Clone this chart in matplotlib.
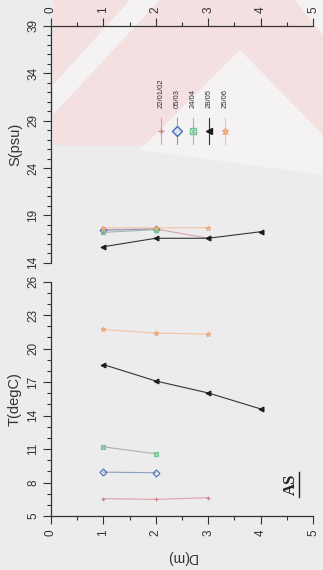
import numpy as np
import matplotlib
matplotlib.use('Agg')
import matplotlib.pyplot as plt
from matplotlib.patches import Polygon
from matplotlib.lines import Line2D

plt.rcParams['font.family'] = ['Liberation Sans', 'DejaVu Sans']

depth = [1, 2, 3, 4]
dates = ['22/01/02', '05/03', '24/04', '28/05', '25/06']

temp_2201 = [6.55, 6.49, 6.64]
temp_0503 = [8.93, 8.87]
temp_2404 = [11.19, 10.57]
temp_2805 = [18.56, 17.09, 16.02, 14.59]
temp_2506 = [21.71, 21.38, 21.29]

sal_2201 = [17.45, 17.56, 16.58]
sal_0503 = [17.45, 17.56]
sal_2404 = [17.2, 17.5]
sal_2805 = [15.69, 16.58, 16.58, 17.27]
sal_2506 = [17.68, 17.68, 17.7]

temps = [temp_2201, temp_0503, temp_2404, temp_2805, temp_2506]
sals = [sal_2201, sal_0503, sal_2404, sal_2805, sal_2506]

d_ticks = [0, 1, 2, 3, 4, 5]
s_ticks = [14, 19, 24, 29, 34, 39]
t_ticks = [5, 8, 11, 14, 17, 20, 23, 26]

colors = ['#c9808a', '#4a6db5', '#74c393', '#1c1c1c', '#eda77a']
line_colors = ['#d8a3a9', '#8d9cc0', '#a7b5ab', '#333333', '#f1c3a5']
markers = ['+', 'D', 's', '<', '*']

W, H = 323, 570
fig = plt.figure(figsize=(W / 100, H / 100), dpi=100)
fig.patch.set_facecolor('#ececec')


def px(x, y):
    return (x / W, 1 - y / H)


# Wasserzeichen im Hintergrund
pink = '#f4dfe1'
light = '#f4f2f2'
shapes = [
    ([(53, 0), (130, 0), (53, 85)], pink),
    ([(53, 85), (130, 0), (160, 0), (53, 115)], light),
    ([(53, 115), (160, 0), (295, 0), (323, 35), (323, 135), (240, 50),
      (145, 145), (53, 145)], pink),
    ([(295, 0), (323, 0), (323, 35)], light),
    ([(240, 50), (323, 135), (323, 175), (140, 150)], light),
]
for pts, col in shapes:
    fig.patches.append(Polygon([px(*p) for p in pts], closed=True,
                               transform=fig.transFigure, facecolor=col,
                               edgecolor='none', zorder=-10))

axS = fig.add_axes([51 / W, 1 - 262.7 / H, 262 / W, (262.7 - 26) / H])
axT = fig.add_axes([51 / W, 1 - 516 / H, 262 / W, (516 - 281.5) / H])

for ax in (axS, axT):
    ax.set_facecolor('none')
    ax.set_xlim(0, 5)
    ax.set_xticks(d_ticks)
    ax.set_xticks(np.arange(0.5, 5, 1), minor=True)
    for sp in ax.spines.values():
        sp.set_color('#333333')
        sp.set_linewidth(0.9)
    ax.spines['right'].set_visible(False)
    ax.tick_params(which='major', direction='out', length=5.8, width=0.8,
                   colors='#333333', labelsize=8.5, labelrotation=90)
    ax.tick_params(which='minor', direction='out', length=3.2, width=0.8,
                   colors='#333333')
    ax.tick_params(axis='y', pad=2.5)

# Salzgehalt oben
axS.spines['bottom'].set_visible(False)
axS.xaxis.tick_top()
axS.tick_params(axis='x', pad=3.5)
axS.set_ylim(14, 39)
axS.set_yticks(s_ticks)
axS.set_yticks(np.arange(14, 40, 1), minor=True)

# Temperatur unten
axT.spines['top'].set_visible(False)
axT.tick_params(axis='x', pad=4)
axT.set_ylim(5, 26)
axT.set_yticks(t_ticks)
axT.set_yticks(np.arange(5, 27, 1), minor=True)

for ax in (axS, axT):
    plt.setp(ax.get_yticklabels(), va='center')

for ax, series in ((axS, sals), (axT, temps)):
    for vals, c, lc, m in zip(series, colors, line_colors, markers):
        d = depth[:len(vals)]
        mfc = c if m == '<' else 'none'
        ax.plot(d, vals, color=lc, lw=0.8, marker=m, ms=3.5, mec=c,
                mfc=mfc, mew=0.8, clip_on=False)
        if m == 's':
            ax.plot(d, vals, ls='none', marker='x', ms=2.5, mec=c, mew=0.6,
                    clip_on=False)

# Legende (gedreht)
for i, (lab, c, lc, m) in enumerate(zip(dates, colors, line_colors, markers)):
    x = 161 + i * 16
    fig.add_artist(Line2D([px(x, 118)[0], px(x, 144)[0]],
                          [px(x, 118)[1], px(x, 144)[1]],
                          transform=fig.transFigure, color=lc, lw=0.8))
    mfc = c if m == '<' else ('#d8e4f5' if m == 'D' else 'none')
    fig.add_artist(Line2D([px(x, 131)[0]], [px(x, 131)[1]],
                          transform=fig.transFigure, ls='none', marker=m,
                          ms=5.0, mec=c, mfc=mfc, mew=1.0))
    if m == 's':
        fig.add_artist(Line2D([px(x, 131)[0]], [px(x, 131)[1]],
                              transform=fig.transFigure, ls='none',
                              marker='x', ms=3.2, mec=c, mew=0.7))
    fig.text(*px(x, 108), lab, rotation=90, ha='center', va='bottom',
             fontsize=5.5, color='#333333')

fig.text(*px(15, 144), 'S(psu)', rotation=90, ha='center', va='center',
         fontsize=10.5, color='#333333')
fig.text(*px(15, 399), 'T(degC)', rotation=90, ha='center', va='center',
         fontsize=10.5, color='#333333')
fig.text(*px(181, 557), 'D(m)', rotation=180, ha='center', va='center',
         fontsize=10, color='#333333')

fig.text(*px(291, 484), 'AS', rotation=90, ha='center', va='center',
         fontsize=12, fontweight='bold', family='Liberation Serif',
         color='#222222')
fig.add_artist(Line2D([px(299, 472)[0], px(299, 497)[0]],
                      [px(299, 472)[1], px(299, 497)[1]],
                      transform=fig.transFigure, color='#222222', lw=1.0))

fig.savefig('out.png', dpi=100, facecolor=fig.get_facecolor())
